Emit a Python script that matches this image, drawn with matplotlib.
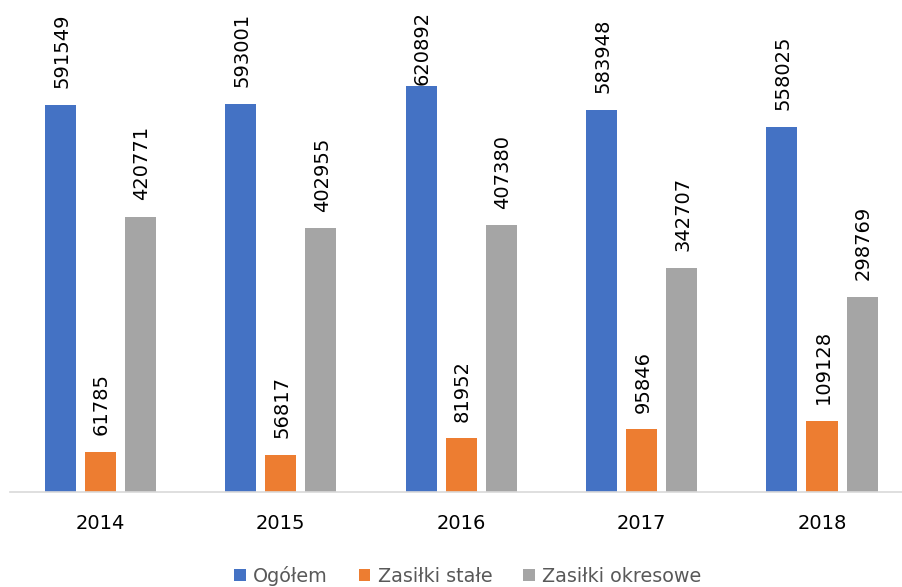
import numpy as np
import matplotlib
matplotlib.use('Agg')
import matplotlib.pyplot as plt

years = ['2014', '2015', '2016', '2017', '2018']
ogolem = [591549, 593001, 620892, 583948, 558025]
stale = [61785, 56817, 81952, 95846, 109128]
okresowe = [420771, 402955, 407380, 342707, 298769]

series = [('Ogółem', ogolem, '#4472C4'),
          ('Zasiłki stałe', stale, '#ED7D31'),
          ('Zasiłki okresowe', okresowe, '#A5A5A5')]

fig = plt.figure(figsize=(9.03, 5.87), dpi=100)
ax = fig.add_axes([10/903, 1 - 492/587, 1 - 10/903, 492/587])

x = np.arange(len(years))
w = 0.172
step = 0.222
label_cap = 596000  # labels that would run off the top are pushed down
for i, (name, vals, col) in enumerate(series):
    bars = ax.bar(x + (i - 1) * step, vals, w, color=col, label=name)
    for b, v in zip(bars, vals):
        ax.annotate(str(v), (b.get_x() + b.get_width() / 2, min(v, label_cap)),
                    xytext=(1, 12), textcoords='offset points',
                    rotation=90, ha='center', va='bottom',
                    fontsize=14, color='#000000')

ax.set_xlim(-0.5, 4.449)
ax.set_ylim(0, 752000)
ax.set_xticks(x)
ax.set_xticklabels(years, fontsize=14)
ax.tick_params(axis='x', length=0, pad=16)
ax.set_yticks([])
for s in ['top', 'right', 'left']:
    ax.spines[s].set_visible(False)
ax.spines['bottom'].set_color('#d9d9d9')
ax.spines['bottom'].set_linewidth(1.2)

fig.legend(loc='center', bbox_to_anchor=(0.518, 1 - 576/587), ncol=3,
           frameon=False, fontsize=13.8, handlelength=0.6, handleheight=0.6,
           handletextpad=0.4, columnspacing=1.6, labelcolor='#595959')

fig.savefig('out.png', dpi=100)
